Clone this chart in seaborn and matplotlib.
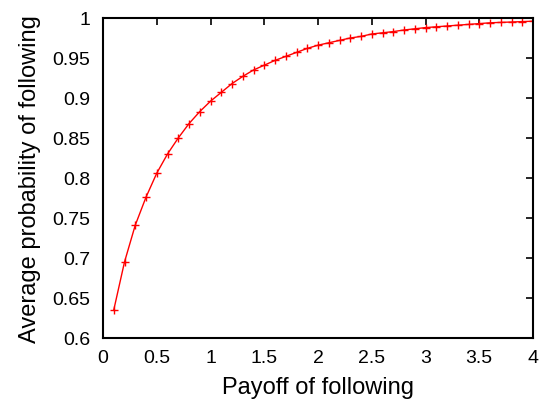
import matplotlib
matplotlib.use("Agg")
import matplotlib.pyplot as plt
import seaborn as sns
import pandas as pd

payoff = [0.1, 0.2, 0.3, 0.4, 0.5, 0.6, 0.7, 0.8, 0.9, 1.0,
          1.1, 1.2, 1.3, 1.4, 1.5, 1.6, 1.7, 1.8, 1.9, 2.0,
          2.1, 2.2, 2.3, 2.4, 2.5, 2.6, 2.7, 2.8, 2.9, 3.0,
          3.1, 3.2, 3.3, 3.4, 3.5, 3.6, 3.7, 3.8, 3.9, 4.0]
prob = [0.635, 0.695, 0.741, 0.776, 0.806, 0.830, 0.850, 0.868, 0.883, 0.896,
        0.907, 0.918, 0.927, 0.935, 0.941, 0.947, 0.952, 0.957, 0.962, 0.966,
        0.969, 0.972, 0.975, 0.977, 0.980, 0.9815, 0.983, 0.985, 0.9865, 0.988,
        0.989, 0.990, 0.991, 0.992, 0.993, 0.994, 0.9945, 0.995, 0.9955, 0.996]
xticks = [0, 0.5, 1, 1.5, 2, 2.5, 3, 3.5, 4]
xticklabels = ["0", "0.5", "1", "1.5", "2", "2.5", "3", "3.5", "4"]
yticks = [0.6, 0.65, 0.7, 0.75, 0.8, 0.85, 0.9, 0.95, 1.0]
yticklabels = ["0.6", "0.65", "0.7", "0.75", "0.8", "0.85", "0.9", "0.95", "1"]

sns.set_style("white")
plt.rcParams['font.family'] = ['Liberation Sans', 'DejaVu Sans']
plt.rcParams['text.color'] = 'black'
plt.rcParams['axes.labelcolor'] = 'black'

df = pd.DataFrame({"payoff": payoff, "prob": prob})

fig = plt.figure(figsize=(5.44, 4.06), dpi=100)
ax = fig.add_axes([103/544, (406-339)/406, 430/544, 320/406])
sns.lineplot(data=df, x="payoff", y="prob", ax=ax, color="#ff0000",
             linewidth=1.0, marker="+", markersize=6, markeredgewidth=1.0,
             markeredgecolor="#ff0000")

ax.set_xlim(0, 4)
ax.set_ylim(0.6, 1.0)
ax.set_xticks(xticks)
ax.set_xticklabels(xticklabels)
ax.set_yticks(yticks)
ax.set_yticklabels(yticklabels)
ax.tick_params(direction="in", length=5, width=1.2, top=True, right=True,
               labelsize=14, colors="black")
ax.tick_params(axis="x", pad=8)
ax.tick_params(axis="y", pad=9)
for s in ax.spines.values():
    s.set_visible(True)
    s.set_color("black")
    s.set_linewidth(1.5)
ax.set_xlabel("Payoff of following", fontsize=17, labelpad=7, color="black")
ax.set_ylabel("Average probability of following", fontsize=17, labelpad=8,
              color="black")
ax.grid(False)

fig.savefig("out.png", dpi=100)
